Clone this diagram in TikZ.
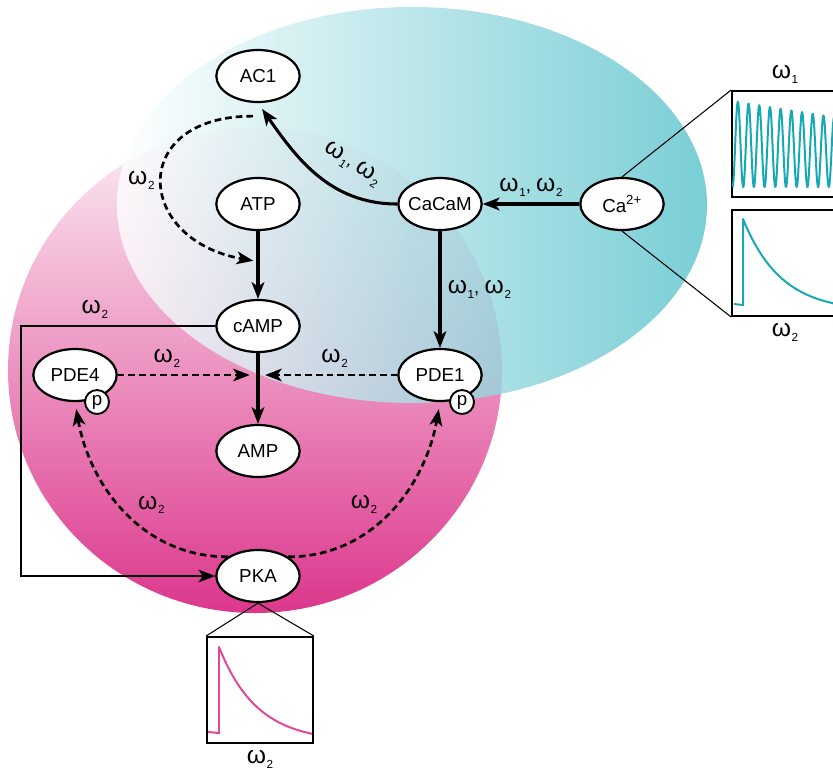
\documentclass[tikz,border=0pt]{standalone}
\usepackage{fontspec}
\setmainfont{Liberation Sans}
\usepackage{tikz}
\usetikzlibrary{positioning,calc,arrows.meta,shapes.geometric}

\definecolor{tealbg}{RGB}{88,194,203}
\definecolor{pinktop}{RGB}{252,238,245}
\definecolor{pinkmid}{RGB}{242,185,215}
\definecolor{pinkbot}{RGB}{220,55,140}
\definecolor{tealtrace}{RGB}{22,168,180}
\definecolor{pinktrace}{RGB}{226,72,152}

\newcommand{\freq}[1]{{\fontsize{21}{24}\selectfont ω}\kern0.6pt\raisebox{-4pt}{\fontsize{10}{12}\selectfont #1}}

\begin{document}
\begin{tikzpicture}[x=0.03cm,y=0.03cm,
every node/.style={font=\fontsize{16}{19}\selectfont},
oval/.style={ellipse,draw,line width=1.9pt,fill=white,minimum width=2.5cm,minimum height=1.56cm,inner xsep=-4pt,inner ysep=0pt},
phos/.style={circle,draw,line width=1.6pt,fill=white,minimum size=0.72cm,inner sep=0pt},
edge/.style={line width=2.6pt,-{Stealth[length=5mm,width=3.8mm,inset=1.3mm]}},
dashedge/.style={edge,line width=2.3pt,dash pattern=on 2mm off 1.2mm},
thinline/.style={line width=0.9pt},
plotbox/.style={draw,line width=1.9pt,minimum size=3.17cm,inner sep=0pt},
trace/.style={line width=1.7pt,line join=round}]

\useasboundingbox (0,0) rectangle (833,-777);
\clip (0,0) rectangle (833,-777);

% regions
\shade[top color=pinktop,middle color=pinkmid,bottom color=pinkbot] (255,-370) ellipse [x radius=247,y radius=243];
\shade[left color=white,right color=tealbg,fill opacity=0.8] (412,-205) ellipse [x radius=295,y radius=198];

% nodes
\node[oval] (ac1) at (258,-76) {AC1};
\node[oval] (atp) at (258,-204) {ATP};
\node[oval] (camp) at (258,-326) {cAMP};
\node[oval] (amp) at (258,-451) {AMP};
\node[oval] (pka) at (258,-576) {PKA};
\node[oval] (pde4) at (75,-375) {PDE4};
\node[oval] (pde1) at (440,-375) {PDE1};
\node[oval] (cacam) at (440,-204) {CaCaM};
\node[oval] (ca) at (622,-204) {Ca\textsuperscript{2+}};
\node[phos] (p4) at ([shift={(22,-27)}]pde4.center) {p};
\node[phos] (p1) at ([shift={(22,-27)}]pde1.center) {p};

% plots
\node[plotbox] (osc) at (785,-144) {};
\node[plotbox] (spk) at (785,-263) {};
\node[plotbox] (pkaplot) at (260,-690) {};
\node[above=2pt of osc] (osclab) {\freq{1}};
\node[below=2pt of spk] (spklab) {\freq{2}};
\node[below=2pt of pkaplot] (pkalab) {\freq{2}};

\draw[trace,tealtrace] plot[domain=0:107,samples=500] ({732.5+\x},{-187+(86-0.16*\x)*(1-cos(33.645*\x))/2});
\draw[trace,tealtrace] (734,-304) -- (743,-305) -- (743,-219) -- plot[domain=0:97,samples=100] ({743+\x},{-312+93*exp(-\x/38)});
\draw[trace,pinktrace] (208,-732) -- (219,-733) -- (219,-647) -- plot[domain=0:93,samples=100] ({219+\x},{-742+95*exp(-\x/38)});

\draw[thinline] (ca.north) -- (osc.north west);
\draw[thinline] (ca.south) -- (spk.south west);
\draw[thinline] (pka.south) -- (pkaplot.north west);
\draw[thinline] (pka.south) -- (pkaplot.north east);

% helper points
\coordinate (acout) at ([shift={(-5,-13)}]ac1.south);
\coordinate (atpcamp) at ($(atp.south)!0.45!(camp.north)$);
\coordinate (hit) at (camp |- pde4);

% edges
\draw[edge] (atp) -- (camp);
\draw[edge] (camp) -- (amp);
\draw[edge] (ca) -- (cacam) node[midway,above=2pt] (lca) {\freq{1}, \freq{2}};
\draw[edge] (cacam) -- (pde1) node[midway,right=2pt] (lcp) {\freq{1}, \freq{2}};
\draw[edge,shorten >=6pt] (cacam.west) to[out=180,in=-55] node[pos=0.3,rotate=-33,above=14pt] (lac) {\freq{1}, \freq{2}} (ac1.south);
\draw[dashedge,shorten >=4pt] (acout) to[out=180,in=170,looseness=2.2] node[midway,left=2pt] (lacx) {\freq{2}} (atpcamp);
\draw[dashedge,shorten >=7pt] (pde4) -- (hit) node[pos=0.35,above=2pt] (lp4) {\freq{2}};
\draw[dashedge,shorten >=6pt] (pde1) -- (hit) node[pos=0.45,above=2pt] (lp1) {\freq{2}};
\draw[dashedge,shorten >=6pt] (pka.north west) to[out=180,in=-80] node[pos=0.45,above right] (lk4) {\freq{2}} (pde4.south);
\draw[dashedge,shorten >=6pt] (pka.north east) to[out=0,in=-100] node[pos=0.45,above left] (lk1) {\freq{2}} (pde1.south);
\draw[edge,line width=2pt] (camp.west) -- ++(-194,0) node[pos=0.62,above=2pt] (lck) {\freq{2}} |- (pka.west);
\end{tikzpicture}
\end{document}
